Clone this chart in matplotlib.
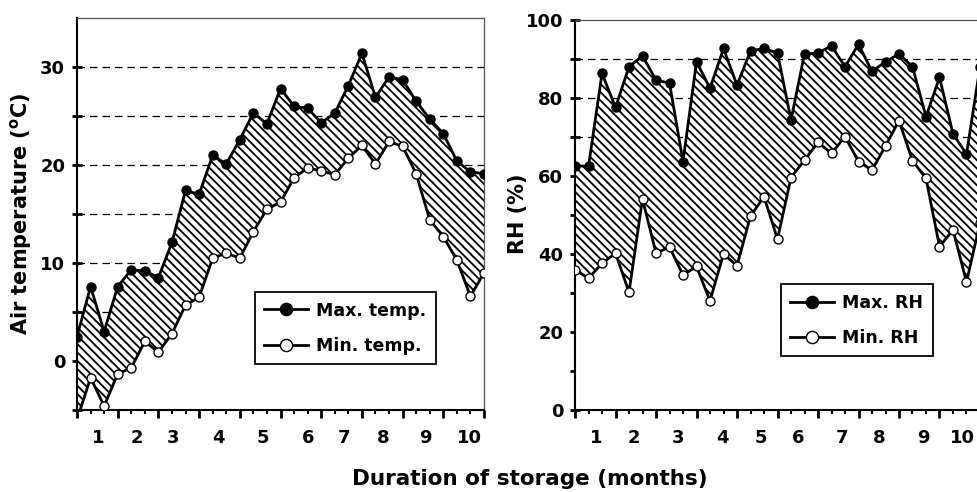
import numpy as np
import matplotlib
matplotlib.use("Agg")
import matplotlib.pyplot as plt
from matplotlib.ticker import MultipleLocator

plt.rcParams['font.family'] = ['DejaVu Sans']
plt.rcParams['font.weight'] = 'bold'
plt.rcParams['mathtext.fontset'] = 'dejavusans'
plt.rcParams['hatch.linewidth'] = 1.3
plt.rcParams['hatch.color'] = 'black'

# ---- data (10-day intervals over 10 months) ----
period = np.arange(31)

max_temp = [2.5, 7.6, 3.0, 7.6, 9.3, 9.2, 8.5, 12.1, 17.4, 17.0,
            21.0, 20.1, 22.6, 25.3, 24.2, 27.8, 26.0, 25.8, 24.3, 25.3,
            28.1, 31.4, 26.9, 29.0, 28.7, 26.5, 24.7, 23.2, 20.4, 19.3, 19.1]
min_temp = [-6.0, -1.7, -4.6, -1.3, -0.7, 2.0, 0.9, 2.8, 5.7, 6.5,
            10.5, 11.0, 10.5, 13.2, 15.5, 16.2, 18.7, 19.7, 19.4, 19.0,
            20.7, 22.0, 20.1, 22.4, 21.9, 19.1, 14.4, 12.7, 10.3, 6.6, 9.0]

max_rh = [62.6, 62.5, 86.3, 77.6, 88.0, 90.8, 84.6, 83.8, 63.7, 89.3,
          82.5, 92.7, 83.3, 92.1, 92.7, 91.5, 74.4, 91.3, 91.5, 93.4,
          88.0, 93.8, 86.8, 89.3, 91.3, 88.0, 75.2, 85.3, 70.8, 65.6, 88.0]
min_rh = [35.9, 33.8, 37.6, 40.2, 30.2, 54.1, 40.2, 41.8, 34.6, 36.8,
          28.0, 40.0, 37.0, 49.7, 54.7, 43.8, 59.6, 64.1, 68.6, 65.8,
          70.1, 63.7, 61.5, 67.7, 74.2, 63.9, 59.4, 41.9, 46.2, 32.8, 48.0]

month_labels = ['1', '2', '3', '4', '5', '6', '7', '8', '9', '10']
month_pos_temp = [1.55, 4.4, 7.1, 10.4, 13.7, 17.0, 19.7, 22.6, 25.7, 28.9]
month_pos_rh = [1.6, 4.35, 7.6, 10.95, 13.8, 16.5, 19.8, 22.5, 25.8, 28.7]

W, H = 977, 492
fig = plt.figure(figsize=(W / 100, H / 100), dpi=100)

ax1 = fig.add_axes([77 / W, (H - 410) / H, 407 / W, 392 / H])
ax2 = fig.add_axes([575 / W, (H - 410) / H, 405 / W, 390 / H])


def style_panel(ax, x, ymax_s, ymin_s, ylo, yhi, yticks, label_every,
                month_pos, leg_labels, leg_anchor):
    ax.set_xlim(0, 30)
    ax.set_ylim(ylo, yhi)
    ax.set_axisbelow(True)
    ax.set_yticks(yticks)
    ax.set_yticklabels([(f'{int(v)}' if (v % label_every == 0) else '')
                        for v in yticks], fontsize=13, fontweight='bold')
    ax.yaxis.grid(True, linestyle=(0, (6, 4)), color='black', linewidth=0.9)
    ax.xaxis.grid(False)
    for val, gl in zip(yticks, ax.get_ygridlines()):
        if val <= ylo or val >= yhi:
            gl.set_visible(False)
    # hatched band between min and max
    ax.fill_between(x, ymin_s, ymax_s, facecolor='white', edgecolor='black',
                    hatch='\\\\\\\\', linewidth=0, zorder=1)
    # white below min
    ax.fill_between(x, ylo, ymin_s, facecolor='white', linewidth=0, zorder=1)
    ax.plot(x, ymax_s, '-o', color='black', lw=2.0, ms=6.5, mfc='black',
            mec='black', mew=1.0, zorder=3, label=leg_labels[0])
    ax.plot(x, ymin_s, '-o', color='black', lw=2.0, ms=6.5, mfc='white',
            mec='black', mew=1.0, zorder=3, label=leg_labels[1])

    ax.xaxis.set_major_locator(MultipleLocator(3))
    ax.xaxis.set_minor_locator(MultipleLocator(1))
    ax.tick_params(axis='x', which='major', direction='out', length=6,
                   width=2.0, labelbottom=False)
    ax.tick_params(axis='x', which='minor', direction='out', length=3,
                   width=1.5)
    sec = ax.secondary_xaxis('bottom')
    sec.set_xticks(month_pos)
    sec.set_xticklabels(month_labels, fontsize=13, fontweight='bold')
    sec.tick_params(length=0, pad=14)
    sec.spines['bottom'].set_visible(False)

    ax.tick_params(axis='y', direction='inout', length=7, width=2.0, pad=5)

    for s in ['left', 'bottom']:
        ax.spines[s].set_linewidth(1.5)
        ax.spines[s].set_color('black')
    for s in ['top', 'right']:
        ax.spines[s].set_linewidth(0.9)
        ax.spines[s].set_color('#555555')

    leg = ax.legend(loc='upper right', bbox_to_anchor=leg_anchor,
                    fontsize=12.5, frameon=True, fancybox=False,
                    edgecolor='black', framealpha=1, borderpad=0.55,
                    labelspacing=1.0, handlelength=2.5, handletextpad=0.5,
                    markerscale=1.35, borderaxespad=0)
    leg.get_frame().set_linewidth(1.3)
    leg.set_zorder(5)
    for t in leg.get_texts():
        t.set_fontweight('bold')


style_panel(ax1, period, max_temp, min_temp, -5, 35,
            np.arange(-5, 31, 5), 10,
            month_pos_temp, ['Max. temp.', 'Min. temp.'], (0.882, 0.301))

style_panel(ax2, period, max_rh, min_rh, 0, 100,
            np.arange(0, 101, 10), 20,
            month_pos_rh, ['Max. RH', 'Min. RH'], (0.884, 0.323))

fig.text(21 / W, (H - 214) / H, r'Air temperature ($\mathbf{^{o}}$C)',
         rotation=90, ha='center', va='center', fontsize=15,
         fontweight='bold')
fig.text(518 / W, (H - 214) / H, 'RH (%)', rotation=90, ha='center',
         va='center', fontsize=15, fontweight='bold')
fig.text(530 / W, (H - 485) / H, 'Duration of storage (months)',
         ha='center', va='baseline', fontsize=15.5, fontweight='bold')

fig.savefig('out.png', dpi=100)
